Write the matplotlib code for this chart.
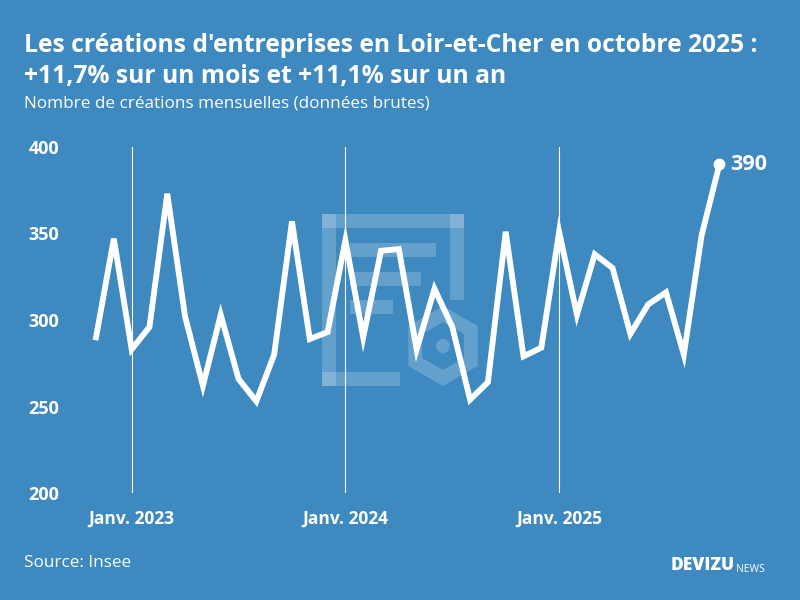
import matplotlib
matplotlib.use("Agg")
import matplotlib.pyplot as plt
from matplotlib.patches import Rectangle, RegularPolygon, Circle

# Monthly business creations, Nov 2022 -> Oct 2025
months = [f"{y}-{m:02d}" for y, m in
          [(2022, 11), (2022, 12)] + [(2023, m) for m in range(1, 13)]
          + [(2024, m) for m in range(1, 13)] + [(2025, m) for m in range(1, 11)]]
creations = [290, 347, 283, 296, 373, 302, 262, 303, 266, 253, 280, 357,
             289, 293, 346, 290, 340, 341, 283, 318, 296, 254, 264, 351,
             279, 284, 351, 303, 338, 330, 292, 309, 316, 280, 349, 390]
year_ticks = ["2023-01", "2024-01", "2025-01"]
year_labels = ["Janv. 2023", "Janv. 2024", "Janv. 2025"]
y_ticks = [200, 250, 300, 350, 400]

bg = "#3d89c0"
font = "Open Sans"

fig = plt.figure(figsize=(8, 6), dpi=100, facecolor=bg)

# watermark logo (pixel coordinates overlay)
wm = fig.add_axes([0, 0, 1, 1], zorder=0)
wm.set_xlim(0, 800)
wm.set_ylim(600, 0)
wm.axis("off")
wm.patch.set_alpha(0)
wcol = (1, 1, 1, 0.2)
for x0, y0, w, h in [(322, 214, 142, 14), (450, 214, 14, 86), (322, 214, 14, 172),
                     (322, 372, 78, 14), (350, 243, 86, 14), (350, 272, 71, 14),
                     (350, 300, 43, 14)]:
    wm.add_patch(Rectangle((x0, y0), w, h, facecolor=wcol, edgecolor="none"))
wm.add_patch(RegularPolygon((443, 346), 6, radius=32, orientation=0,
                            facecolor="none", edgecolor=wcol, linewidth=10))
wm.add_patch(Circle((443, 346), 7, facecolor=wcol, edgecolor="none"))

ax = fig.add_axes([80 / 800, 1 - 493 / 600, 700 / 800, 346 / 600], zorder=1)
ax.patch.set_alpha(0)
x = list(range(len(months)))
ax.plot(x, creations, color="white", linewidth=4.2, solid_joinstyle="miter", zorder=3)
ax.plot(x[-1], creations[-1], "o", color="white", markersize=7.5, zorder=4)
ax.annotate(str(creations[-1]), (x[-1], creations[-1]), xytext=(8, 0),
            textcoords="offset points", va="center", ha="left", color="white",
            fontsize=15.5, fontweight="bold", family=font)

xt = [months.index(m) for m in year_ticks]
for v in xt:
    ax.axvline(v, color="white", linewidth=0.8, zorder=2)
ax.set_xticks(xt)
ax.set_xticklabels(year_labels, fontsize=12.5)
ax.set_yticks(y_ticks)
ax.set_yticklabels([str(v) for v in y_ticks], fontsize=13)
ax.set_ylim(200, 400)
ax.set_xlim(-0.9, 38.4)
for s in ax.spines.values():
    s.set_visible(False)
ax.tick_params(length=0, colors="white")
ax.tick_params(axis="y", pad=15)
ax.tick_params(axis="x", pad=12)
for lab in ax.get_xticklabels() + ax.get_yticklabels():
    lab.set_fontweight("bold")
    lab.set_family(font)

fig.text(24 / 800, 1 - 45 / 600, "Les créations d'entreprises en Loir-et-Cher en octobre 2025 :",
         color="white", fontsize=17.7, fontweight="bold", family=font, va="center")
fig.text(24 / 800, 1 - 76 / 600, "+11,7% sur un mois et +11,1% sur un an",
         color="white", fontsize=17.7, fontweight="bold", family=font, va="center")
fig.text(24 / 800, 1 - 104 / 600, "Nombre de créations mensuelles (données brutes)",
         color="white", fontsize=12.3, family=font, va="center")
fig.text(24 / 800, 1 - 563 / 600, "Source: Insee",
         color="white", fontsize=12.3, family=font, va="center")
fig.text(735 / 800, 1 - 566 / 600, "DEVIZU", color="white", fontsize=12.5,
         fontweight="heavy", family=font, va="center", ha="right")
fig.text(736 / 800, 1 - 570 / 600, "NEWS", color="white", fontsize=7.5,
         family=font, va="center", ha="left")

fig.savefig("out.png", dpi=100, facecolor=bg)
